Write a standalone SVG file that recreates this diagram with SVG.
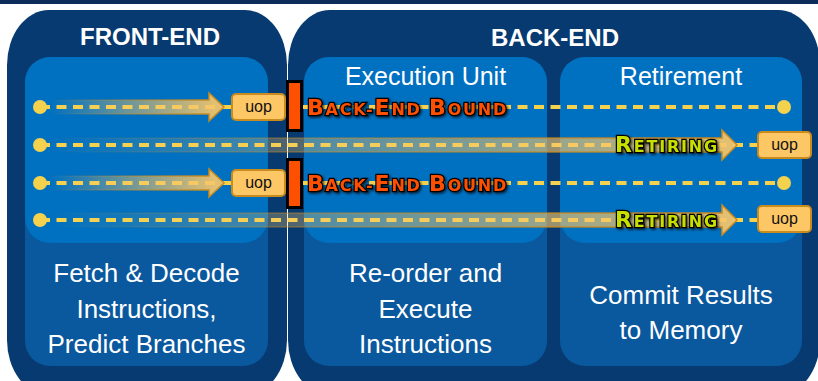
<svg xmlns="http://www.w3.org/2000/svg" width="818" height="381" viewBox="0 0 818 381">
<style>
.outer{fill:#073a70}
.lower{fill:#0a589d}
.upper{fill:#0070c0}
.title{font-family:"Liberation Sans",Arial,sans-serif;font-weight:bold;font-size:24px;fill:#fff;text-anchor:middle}
.sub{font-family:"Liberation Sans",Arial,sans-serif;font-size:25px;fill:#fff;text-anchor:middle}
.body{font-family:"Liberation Sans",Arial,sans-serif;font-size:26px;fill:#fff;text-anchor:middle}
.dash{fill:none;stroke:#f5d24e;stroke-width:4;stroke-dasharray:10 6.5}
.dot{fill:#f5d24e}
.uop rect{fill:#fdc766;stroke:#c98a1e;stroke-width:2}
.uop text{font-family:"Liberation Sans",Arial,sans-serif;font-size:16px;fill:#111;text-anchor:middle}
.bar{fill:#ff5000;stroke:#000;stroke-width:3}
.lbl{font-family:"DejaVu Sans",sans-serif;font-weight:bold;stroke:#000;stroke-width:2.4;paint-order:stroke;letter-spacing:1.8px;filter:url(#sh)}
.beb{fill:#ff5000}
.ret{fill:#c8e000}
.L{font-size:22px}
.S{font-size:16px}
</style>
<defs>
<linearGradient id="gShortF" gradientUnits="userSpaceOnUse" x1="50" y1="0" x2="215" y2="0">
<stop offset="0" stop-color="#f7c66a" stop-opacity="0"/>
<stop offset="1" stop-color="#f7c66a" stop-opacity="0.92"/>
</linearGradient>
<linearGradient id="gShortS" gradientUnits="userSpaceOnUse" x1="50" y1="0" x2="215" y2="0">
<stop offset="0" stop-color="#c98a1e" stop-opacity="0"/>
<stop offset="1" stop-color="#c98a1e" stop-opacity="1"/>
</linearGradient>
<linearGradient id="gLongF" gradientUnits="userSpaceOnUse" x1="50" y1="0" x2="725" y2="0">
<stop offset="0" stop-color="#f7c66a" stop-opacity="0"/>
<stop offset="0.35" stop-color="#f7c66a" stop-opacity="0.3"/>
<stop offset="0.85" stop-color="#f7c66a" stop-opacity="0.7"/>
<stop offset="1" stop-color="#f7c66a" stop-opacity="0.92"/>
</linearGradient>
<linearGradient id="gLongS" gradientUnits="userSpaceOnUse" x1="50" y1="0" x2="725" y2="0">
<stop offset="0" stop-color="#c98a1e" stop-opacity="0"/>
<stop offset="0.35" stop-color="#c98a1e" stop-opacity="0.4"/>
<stop offset="1" stop-color="#c98a1e" stop-opacity="1"/>
</linearGradient>
<filter id="sh" x="-10%" y="-30%" width="120%" height="160%">
<feDropShadow dx="1.5" dy="1.5" stdDeviation="1" flood-color="#000" flood-opacity="0.7"/>
</filter>
</defs>
<rect x="0" y="0" width="818" height="381" fill="#fff"/>
<rect x="0" y="0" width="818" height="4" fill="#0c2d5a"/>

<g id="front-end">
<rect class="outer" x="7" y="10" width="280" height="385" rx="42" ry="55"/>
<rect class="lower" x="25" y="57" width="243" height="309" rx="25"/>
<rect class="upper" x="25" y="57" width="243" height="186" rx="25"/>
<text class="title" x="150" y="45">FRONT-END</text>
<text class="body" x="146.5" y="282">Fetch &amp; Decode</text>
<text class="body" x="146.5" y="318">Instructions,</text>
<text class="body" x="146.5" y="353">Predict Branches</text>
</g>

<g id="back-end">
<rect class="outer" x="288" y="10" width="532" height="385" rx="42" ry="55"/>
<text class="title" x="555" y="46">BACK-END</text>
</g>

<g id="execution-unit">
<rect class="lower" x="304" y="57" width="243" height="309" rx="25"/>
<rect class="upper" x="304" y="57" width="243" height="186" rx="25"/>
<text class="sub" x="425.5" y="85">Execution Unit</text>
<text class="body" x="425.5" y="282">Re-order and</text>
<text class="body" x="425.5" y="318">Execute</text>
<text class="body" x="425.5" y="353">Instructions</text>
</g>

<g id="retirement">
<rect class="lower" x="560" y="57" width="242" height="309" rx="25"/>
<rect class="upper" x="560" y="57" width="242" height="186" rx="25"/>
<text class="sub" x="681" y="85">Retirement</text>
<text class="body" x="681" y="304">Commit Results</text>
<text class="body" x="681" y="339">to Memory</text>
</g>

<g id="connectors">
<path class="dash" d="M40 107H231M303 107H784"/>
<path class="dash" d="M40 145H757"/>
<path class="dash" d="M40 183H231M303 183H784"/>
<path class="dash" d="M40 220H757"/>
<polygon points="45,100 209,100 209,93 224,107 209,121 209,114 45,114" fill="url(#gShortF)" stroke="url(#gShortS)" stroke-width="1.5"/>
<polygon points="45,176 209,176 209,169 224,183 209,197 209,190 45,190" fill="url(#gShortF)" stroke="url(#gShortS)" stroke-width="1.5"/>
<polygon points="45,138 722,138 722,130 737,145 722,160 722,152 45,152" fill="url(#gLongF)" stroke="url(#gLongS)" stroke-width="1.5"/>
<polygon points="45,213 722,213 722,205 737,220 722,235 722,227 45,227" fill="url(#gLongF)" stroke="url(#gLongS)" stroke-width="1.5"/>
<circle class="dot" cx="40" cy="107" r="7"/>
<circle class="dot" cx="40" cy="145" r="7"/>
<circle class="dot" cx="40" cy="183" r="7"/>
<circle class="dot" cx="40" cy="220" r="7"/>
<circle class="dot" cx="784" cy="107" r="7"/>
<circle class="dot" cx="784" cy="183" r="7"/>
<text class="lbl beb" x="307" y="114.5"><tspan class="L">B</tspan><tspan class="S">ACK-</tspan><tspan class="L">E</tspan><tspan class="S">ND </tspan><tspan class="L">B</tspan><tspan class="S">OUND</tspan></text>
<text class="lbl beb" x="307" y="190.5"><tspan class="L">B</tspan><tspan class="S">ACK-</tspan><tspan class="L">E</tspan><tspan class="S">ND </tspan><tspan class="L">B</tspan><tspan class="S">OUND</tspan></text>
<text class="lbl ret" x="615" y="152"><tspan class="L">R</tspan><tspan class="S">ETIRING</tspan></text>
<text class="lbl ret" x="615" y="227"><tspan class="L">R</tspan><tspan class="S">ETIRING</tspan></text>
</g>

<g id="stall-1"><rect class="bar" x="287.5" y="81.5" width="14" height="49"/></g>
<g id="stall-2"><rect class="bar" x="287.5" y="159.5" width="14" height="48"/></g>
<g id="uop-1" class="uop"><rect x="232" y="94" width="53" height="26" rx="4"/><text x="258.5" y="112">uop</text></g>
<g id="uop-2" class="uop"><rect x="758" y="132" width="53" height="26" rx="4"/><text x="784.5" y="150">uop</text></g>
<g id="uop-3" class="uop"><rect x="232" y="170" width="53" height="26" rx="4"/><text x="258.5" y="188">uop</text></g>
<g id="uop-4" class="uop"><rect x="758" y="206" width="53" height="26" rx="4"/><text x="784.5" y="224">uop</text></g>
</svg>
